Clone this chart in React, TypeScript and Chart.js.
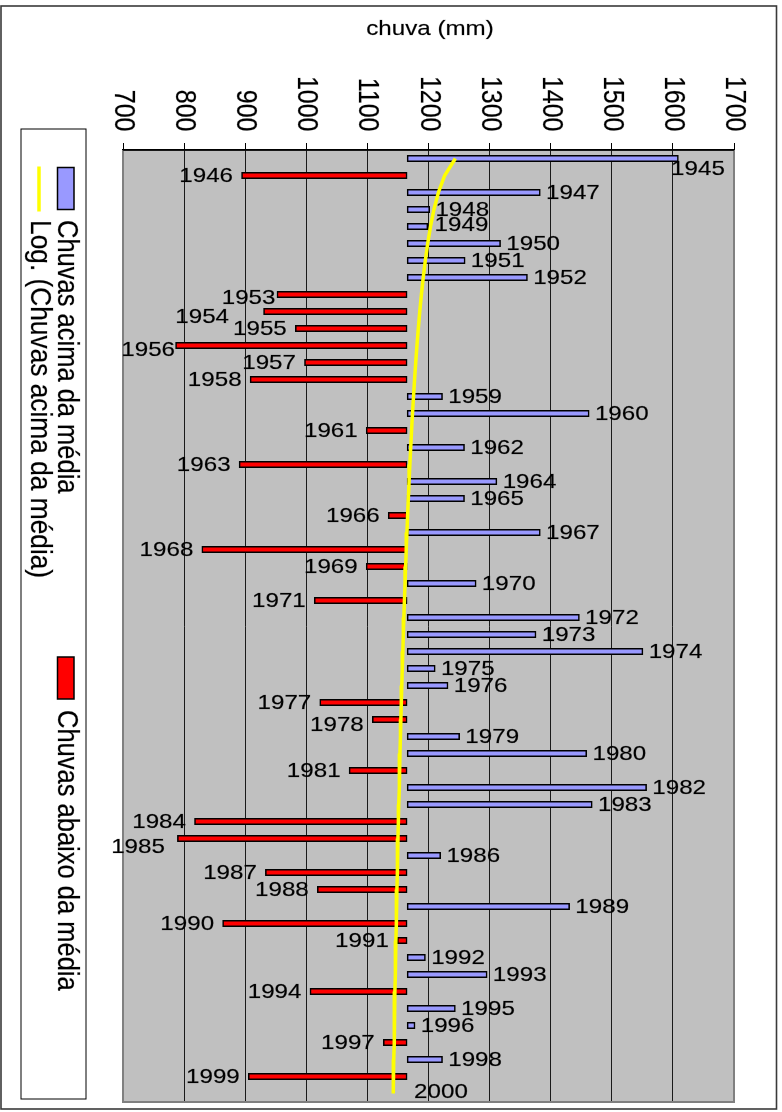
import React, { useEffect, useRef } from 'react';
import { Chart, registerables } from 'chart.js';

Chart.register(...registerables);

const years = [
  '1945', '1946', '1947', '1948', '1949', '1950', '1951', '1952', '1953', '1954',
  '1955', '1956', '1957', '1958', '1959', '1960', '1961', '1962', '1963', '1964',
  '1965', '1966', '1967', '1968', '1969', '1970', '1971', '1972', '1973', '1974',
  '1975', '1976', '1977', '1978', '1979', '1980', '1981', '1982', '1983', '1984',
  '1985', '1986', '1987', '1988', '1989', '1990', '1991', '1992', '1993', '1994',
  '1995', '1996', '1997', '1998', '1999', '2000',
];

const rainfall: (number | null)[] = [
  1609, 894, 1383, 1202, 1199, 1318, 1260, 1362, 952, 930,
  982, 786, 997, 908, 1223, 1463, 1098, 1259, 890, 1312,
  1259, 1134, 1383, 829, 1098, 1278, 1013, 1447, 1376, 1551,
  1211, 1232, 1022, 1108, 1251, 1459, 1070, 1557, 1468, 817,
  789, 1220, 933, 1018, 1431, 863, 1149, 1195, 1296, 1006,
  1244, 1178, 1126, 1223, 905, null,
];

const MEAN = 1165;

const trendValues = [
  1244, 1226.5, 1216.2, 1208.9, 1203.3, 1198.7, 1194.8, 1191.4, 1188.4, 1185.7,
  1183.3, 1181.1, 1179.1, 1177.2, 1175.5, 1173.8, 1172.3, 1170.9, 1169.5, 1168.2,
  1167.0, 1165.8, 1164.7, 1163.6, 1162.6, 1161.6, 1160.6, 1159.7, 1158.8, 1158.0,
  1157.1, 1156.3, 1155.5, 1154.8, 1154.1, 1153.3, 1152.6, 1152.0, 1151.3, 1150.7,
  1150.0, 1149.4, 1148.8, 1148.3, 1147.7, 1147.1, 1146.6, 1146.1, 1145.5, 1145.0,
  1144.5, 1144.0, 1143.6, 1143.1, 1142.6, 1142.2,
];

const xTicks = [700, 800, 900, 1000, 1100, 1200, 1300, 1400, 1500, 1600, 1700];

const axisTitle = 'chuva (mm)';
const nameAbove = 'Chuvas acima da média';
const nameTrend = 'Log. (Chuvas acima da média)';
const nameBelow = 'Chuvas abaixo da média';

// small manual nudges of individual year labels (as placed in the original)
const labelNudges: Record<string, [number, number]> = {
  '1945': [-13, 10],
  '1949': [1, -2],
  '1953': [7, 3],
  '1954': [-26, 5],
  '1956': [8, 4],
  '1978': [0, 5],
  '1985': [-4, 8],
};

const FONT = "'Liberation Sans', Arial, Helvetica, sans-serif";
const STRETCH = 1.15;
const BLUE = '#9999FF';
const RED = '#FF0000';
const YELLOW = '#FFFF00';

function drawText(
  ctx: CanvasRenderingContext2D,
  text: string,
  x: number,
  y: number,
  size: number,
  align: CanvasTextAlign,
  baseline: CanvasTextBaseline,
  rotate = false
) {
  ctx.save();
  ctx.translate(x, y);
  if (rotate) {
    ctx.rotate(Math.PI / 2);
    ctx.scale(1, STRETCH);
  } else {
    ctx.scale(STRETCH, 1);
  }
  ctx.font = `${size}px ${FONT}`;
  ctx.textAlign = align;
  ctx.textBaseline = baseline;
  ctx.fillStyle = '#000';
  ctx.strokeStyle = 'rgba(0,0,0,0.35)';
  ctx.lineWidth = 0.5;
  ctx.fillText(text, 0, 0);
  ctx.strokeText(text, 0, 0);
  ctx.restore();
}

const decorPlugin = {
  id: 'decor',
  beforeDraw(chart: any) {
    const { ctx, chartArea } = chart;
    ctx.save();
    ctx.fillStyle = '#FFFFFF';
    ctx.fillRect(0, 0, chart.width, chart.height);
    ctx.fillStyle = '#C0C0C0';
    ctx.fillRect(chartArea.left, chartArea.top, chartArea.right - chartArea.left, chartArea.bottom - chartArea.top);
    ctx.restore();
  },
  afterDraw(chart: any) {
    const { ctx, chartArea } = chart;
    const xs = chart.scales.x;
    const ys = chart.scales.y;
    const { left, right, top, bottom } = chartArea;

    // plot area outline
    ctx.save();
    ctx.strokeStyle = '#808080';
    ctx.lineWidth = 2;
    ctx.beginPath();
    ctx.moveTo(left, top);
    ctx.lineTo(left, bottom);
    ctx.lineTo(right, bottom);
    ctx.lineTo(right, top);
    ctx.stroke();
    ctx.strokeStyle = '#000';
    ctx.lineWidth = 1.5;
    ctx.beginPath();
    ctx.moveTo(left, top);
    ctx.lineTo(right, top);
    ctx.stroke();

    // outer frame
    ctx.strokeStyle = '#3a3a3a';
    ctx.lineWidth = 1.6;
    ctx.strokeRect(1, 6, 775.5, 1103);
    ctx.restore();

    // axis title
    drawText(ctx, axisTitle, 430, 35, 21, 'center', 'alphabetic');

    // tick labels (rotated)
    xTicks.forEach((v) => {
      drawText(ctx, String(v), xs.getPixelForValue(v), top - 18.5, 25, 'right', 'middle', true);
    });

    // year labels
    years.forEach((yr, i) => {
      const v = rainfall[i];
      const [dx, dy] = labelNudges[yr] || [0, 0];
      const y = ys.getPixelForValue(i) + 0.5 + dy;
      if (v == null) {
        drawText(ctx, yr, xs.getPixelForValue(MEAN) + 7 + dx, y - 1.5, 21, 'left', 'middle');
      } else if (v >= MEAN) {
        drawText(ctx, yr, xs.getPixelForValue(v) + 5.7 + dx, y, 21, 'left', 'middle');
      } else {
        drawText(ctx, yr, xs.getPixelForValue(v) - 8.5 + dx, y, 21, 'right', 'middle');
      }
    });

    // legend
    ctx.save();
    ctx.fillStyle = '#FFFFFF';
    ctx.fillRect(21, 129, 65, 970);
    ctx.strokeStyle = '#000';
    ctx.lineWidth = 1;
    ctx.strokeRect(21, 129, 65, 970);

    ctx.fillStyle = BLUE;
    ctx.fillRect(57.5, 167.5, 16.5, 42);
    ctx.strokeStyle = '#000';
    ctx.lineWidth = 1.5;
    ctx.strokeRect(57.5, 167.5, 16.5, 42);

    ctx.fillStyle = RED;
    ctx.fillRect(57.5, 657, 16.5, 42);
    ctx.strokeRect(57.5, 657, 16.5, 42);

    ctx.strokeStyle = YELLOW;
    ctx.lineWidth = 3.5;
    ctx.beginPath();
    ctx.moveTo(39, 166.5);
    ctx.lineTo(39, 211.5);
    ctx.stroke();
    ctx.restore();

    drawText(ctx, nameAbove, 65.7, 220, 25.5, 'left', 'middle', true);
    drawText(ctx, nameTrend, 39.5, 220, 26.3, 'left', 'middle', true);
    drawText(ctx, nameBelow, 65.7, 710, 25.5, 'left', 'middle', true);
  },
};

export default function App() {
  const canvasRef = useRef<HTMLCanvasElement | null>(null);

  useEffect(() => {
    document.body.style.margin = '0';
    const canvas = canvasRef.current;
    if (!canvas) return;

    const above = rainfall.map((v) => (v != null && v >= MEAN ? [MEAN, v] : null));
    const below = rainfall.map((v) => (v != null && v < MEAN ? [v, MEAN] : null));

    const chart = new Chart(canvas, {
      type: 'bar',
      data: {
        labels: years,
        datasets: [
          {
            type: 'line',
            label: nameTrend,
            data: trendValues,
            borderColor: YELLOW,
            borderWidth: 3.5,
            pointRadius: 0,
            fill: false,
            tension: 0,
            order: 0,
            indexAxis: 'y',
          } as any,
          {
            type: 'bar',
            label: nameAbove,
            data: above as any,
            backgroundColor: BLUE,
            borderColor: '#000',
            borderWidth: 1.6,
            borderSkipped: false,
            barThickness: 6.5,
            grouped: false,
            order: 1,
          } as any,
          {
            type: 'bar',
            label: nameBelow,
            data: below as any,
            backgroundColor: RED,
            borderColor: '#000',
            borderWidth: 1.6,
            borderSkipped: false,
            barThickness: 6.5,
            grouped: false,
            order: 2,
          } as any,
        ],
      },
      options: {
        indexAxis: 'y',
        responsive: false,
        animation: false,
        devicePixelRatio: 1,
        layout: { padding: { top: 143, left: 123, right: 48, bottom: 10 } },
        plugins: {
          legend: { display: false },
          tooltip: { enabled: false },
          title: { display: false },
        },
        scales: {
          x: {
            type: 'linear',
            position: 'top',
            min: 700,
            max: 1700,
            ticks: { display: false, stepSize: 100 },
            grid: { color: '#1a1a1a', lineWidth: 1, drawTicks: true, tickLength: 7, tickColor: '#000' },
            border: { display: true, color: '#000', width: 1.5 },
          },
          y: {
            type: 'category',
            display: false,
            offset: true,
          },
        },
      } as any,
      plugins: [decorPlugin],
    });

    return () => chart.destroy();
  }, []);

  return (
    <div style={{ position: 'absolute', left: 0, top: 0, width: 782, height: 1112 }}>
      <canvas ref={canvasRef} width={782} height={1112} style={{ display: 'block', width: 782, height: 1112 }} />
    </div>
  );
}
